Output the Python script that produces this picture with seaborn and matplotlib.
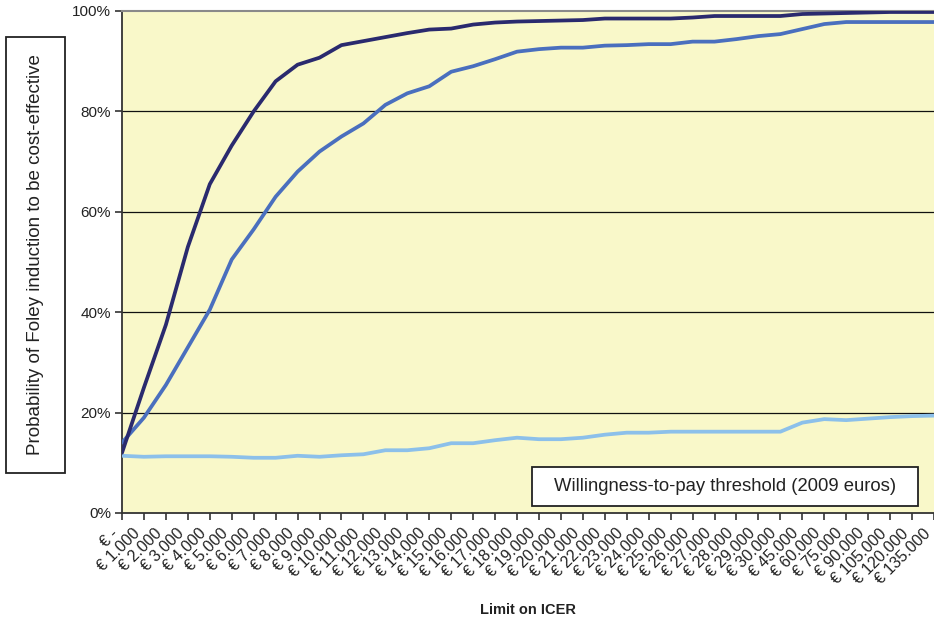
import numpy as np
import pandas as pd
import matplotlib
matplotlib.use("Agg")
import matplotlib.pyplot as plt
import matplotlib.transforms as mtransforms
from matplotlib.patches import Rectangle
import seaborn as sns

# -------------------- Data --------------------

thresholds = ["€ -"] + ["€ {}.000".format(k) for k in range(1, 31)] + \
             ["€ 45.000", "€ 60.000", "€ 75.000", "€ 90.000",
              "€ 105.000", "€ 120.000", "€ 135.000"]

series_a = [12.0, 25.0, 37.5, 53.0, 65.5, 73.2, 80.0, 86.0, 89.3, 90.7,
            93.2, 94.0, 94.8, 95.6, 96.3, 96.5, 97.3, 97.7, 97.9, 98.0,
            98.1, 98.2, 98.5, 98.5, 98.5, 98.5, 98.7, 99.0, 99.0, 99.0,
            99.0, 99.4, 99.5, 99.6, 99.7, 99.8, 99.8, 99.8]

series_b = [14.0, 19.0, 25.5, 33.0, 40.5, 50.5, 56.5, 63.0, 68.0, 72.0,
            75.0, 77.6, 81.3, 83.6, 85.0, 87.9, 89.0, 90.4, 91.9, 92.4,
            92.7, 92.7, 93.1, 93.2, 93.4, 93.4, 93.9, 93.9, 94.4, 95.0,
            95.4, 96.4, 97.4, 97.8, 97.8, 97.8, 97.8, 97.8]

series_c = [11.4, 11.2, 11.3, 11.3, 11.3, 11.2, 11.0, 11.0, 11.4, 11.2,
            11.5, 11.7, 12.5, 12.5, 12.9, 13.9, 13.9, 14.5, 15.0, 14.7,
            14.7, 15.0, 15.6, 16.0, 16.0, 16.2, 16.2, 16.2, 16.2, 16.2,
            16.2, 18.0, 18.7, 18.5, 18.8, 19.1, 19.3, 19.4]

series_names = ["Series C", "Series B", "Series A"]
colors = {"Series A": "#2a2a6e", "Series B": "#4a6fbe", "Series C": "#8cc0ea"}

# -------------------- Build long-form table --------------------

pos = np.arange(len(thresholds))
df = pd.concat([
    pd.DataFrame({"pos": pos, "value": series_c, "series": "Series C"}),
    pd.DataFrame({"pos": pos, "value": series_b, "series": "Series B"}),
    pd.DataFrame({"pos": pos, "value": series_a, "series": "Series A"}),
])

# -------------------- Plot --------------------

sns.set_theme(style="white")
plt.rcParams["font.family"] = ["Liberation Sans", "DejaVu Sans"]

fig = plt.figure(figsize=(9.34, 6.2), dpi=100)
ax = fig.add_axes([122 / 934, 1 - 513 / 620, 812 / 934, 502 / 620])
ax.set_facecolor("#f9f8c9")

for y in [20, 40, 60, 80]:
    ax.axhline(y, color="#111111", lw=0.9, zorder=1)

sns.lineplot(data=df, x="pos", y="value", hue="series", hue_order=series_names,
             palette=colors, linewidth=2.7, legend=False, ax=ax, zorder=3)

ax.set_xlim(0, len(thresholds) - 1)
ax.set_ylim(0, 100)
ax.set_yticks([0, 20, 40, 60, 80, 100])
ax.set_yticklabels(["0%", "20%", "40%", "60%", "80%", "100%"], fontsize=11, color="#222222")
ax.set_xticks(pos)
ax.set_xticklabels(thresholds, rotation=45, ha="right", va="center",
                   rotation_mode="anchor", fontsize=11.5, color="#222222")
ax.tick_params(axis="both", direction="out", length=5, width=1.2, color="#333333",
               bottom=True, left=True, pad=3)
ax.tick_params(axis="x", pad=8)

# nudge the rotated tick labels a little to the left, as in the original
shift = mtransforms.ScaledTranslation(-6 / 100, 0, fig.dpi_scale_trans)
for lbl in ax.get_xticklabels():
    lbl.set_transform(lbl.get_transform() + shift)

ax.spines["left"].set_color("#333333")
ax.spines["left"].set_linewidth(1.3)
ax.spines["bottom"].set_color("#333333")
ax.spines["bottom"].set_linewidth(1.3)
ax.spines["top"].set_color("#8a8a8a")
ax.spines["top"].set_linewidth(1.5)
ax.spines["right"].set_visible(False)

ax.set_xlabel("")
ax.set_ylabel("")

# x axis title
fig.text(528 / 934, 1 - 610 / 620, "Limit on ICER", ha="center", va="center",
         fontsize=10.5, fontweight="bold", color="#222222")

# boxed y axis title
fig.patches.append(Rectangle((6 / 934, 1 - 473 / 620), 59 / 934, 436 / 620,
                             transform=fig.transFigure, facecolor="white",
                             edgecolor="#222222", linewidth=1.3))
fig.text(35.5 / 934, 1 - 255 / 620, "Probability of Foley induction to be cost-effective",
         rotation=90, ha="center", va="center", fontsize=13.5, color="#222222")

# boxed note inside the plot
ax.add_patch(Rectangle((0.505, 0.014), 0.475, 0.078, transform=ax.transAxes,
                       facecolor="white", edgecolor="#222222", linewidth=1.3, zorder=4))
ax.text(0.7426, 0.053, "Willingness-to-pay threshold (2009 euros)", transform=ax.transAxes,
        ha="center", va="center", fontsize=13.3, color="#222222", zorder=5)

plt.savefig("out.png", dpi=100)
